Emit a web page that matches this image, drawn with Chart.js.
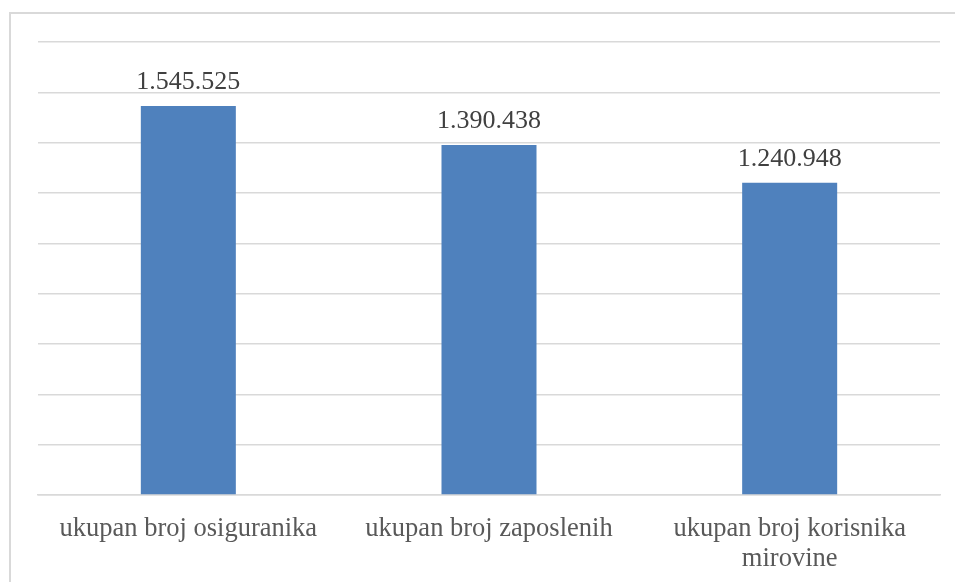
<!DOCTYPE html>
<html lang="hr">
<head>
    <meta charset="UTF-8">
    <title>Broj osiguranika</title>
    <script src="https://cdn.jsdelivr.net/npm/chart.js"></script>
    <style>
        html, body { margin: 0; padding: 0; background: #fff; overflow: hidden; }
        .frame { position: absolute; left: 9px; top: 12px; width: 944px; height: 571px;
                 border-top: 2px solid #d9d9d9; border-left: 2px solid #d9d9d9; }
        canvas { display: block; }
        .fontwarm { position: absolute; left: -999px; font-family: "Liberation Serif"; }
    </style>
</head>
<body>
    <span class="fontwarm">ukupan 1.545.525</span>
    <div class="frame">
        <canvas id="barChart" width="944" height="571"></canvas>
    </div>

    <script>
        const categories = [
            'ukupan broj osiguranika',
            'ukupan broj zaposlenih',
            ['ukupan broj korisnika', 'mirovine']
        ];
        const values = [1545525, 1390438, 1240948];

        const serif = '"Liberation Serif", "Times New Roman", serif';

        // 1545525 -> "1.545.525"
        function formatNum(n) {
            return String(n).replace(/\B(?=(\d{3})+(?!\d))/g, '.');
        }

        // value labels above bars
        const valueLabels = {
            id: 'valueLabels',
            afterDatasetsDraw(chart) {
                const ctx = chart.ctx;
                const meta = chart.getDatasetMeta(0);
                ctx.save();
                ctx.font = '26px ' + serif;
                ctx.fillStyle = '#404040';
                ctx.textAlign = 'center';
                ctx.textBaseline = 'alphabetic';
                meta.data.forEach((bar, i) => {
                    ctx.fillText(formatNum(values[i]), bar.x, bar.y - 17);
                });
                ctx.restore();
            }
        };

        function draw() {
            const ctx = document.getElementById('barChart').getContext('2d');
            new Chart(ctx, {
                type: 'bar',
                data: {
                    labels: categories,
                    datasets: [{
                        data: values,
                        backgroundColor: '#4f81bd',
                        categoryPercentage: 1,
                        barPercentage: 0.316
                    }]
                },
                options: {
                    responsive: false,
                    animation: false,
                    layout: { padding: { left: 27, right: 15, top: 28, bottom: 0 } },
                    plugins: {
                        legend: { display: false },
                        tooltip: { enabled: false }
                    },
                    scales: {
                        x: {
                            grid: { display: false },
                            border: { color: '#d9d9d9', width: 1.5 },
                            ticks: {
                                color: '#595959',
                                padding: 11,
                                maxRotation: 0,
                                autoSkip: false,
                                font: { family: serif, size: 26.5, lineHeight: 1.13 }
                            }
                        },
                        y: {
                            min: 0,
                            max: 1800000,
                            ticks: { display: false, stepSize: 200000 },
                            border: { display: false },
                            grid: { color: '#d9d9d9', lineWidth: 1.5, drawTicks: false }
                        }
                    }
                },
                plugins: [valueLabels]
            });
        }

        document.fonts.load('26px "Liberation Serif"').then(draw, draw);
    </script>
</body>
</html>
